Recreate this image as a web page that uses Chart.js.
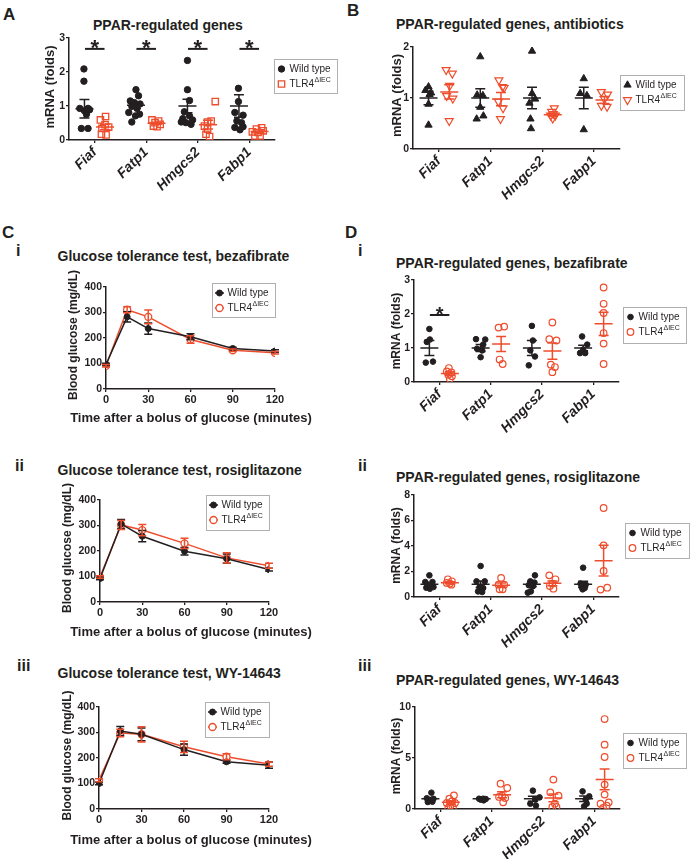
<!DOCTYPE html>
<html>
<head>
<meta charset="utf-8">
<script src="https://cdn.jsdelivr.net/npm/chart.js@4.4.1/dist/chart.umd.min.js"></script>
<style>
  body { margin: 0; background: #fff; }
  #fig { position: relative; width: 692px; height: 859px; overflow: hidden; font-family: "Liberation Sans", Arial, sans-serif; color: #231f20; }
  #fig canvas { position: absolute; left: 0; top: 0; }
  .lab { position: absolute; font-weight: bold; line-height: 1; white-space: nowrap; }
  .big { font-size: 17px; }
  .num { font-size: 16px; }
  .ttl { font-size: 14px; }
</style>
</head>
<body>
<div id="fig">
  <div class="lab big" style="left:3px;top:6px">A</div>
  <div class="lab big" style="left:347px;top:2px">B</div>
  <div class="lab big" style="left:2px;top:223.5px">C</div>
  <div class="lab big" style="left:345px;top:223.5px">D</div>
  <div class="lab num" style="left:16px;top:243px">i</div>
  <div class="lab num" style="left:358px;top:243px">i</div>
  <div class="lab num" style="left:15px;top:458px">ii</div>
  <div class="lab num" style="left:358px;top:458px">ii</div>
  <div class="lab num" style="left:17px;top:658px">iii</div>
  <div class="lab num" style="left:358px;top:658px">iii</div>

  <div class="lab ttl" style="left:93px;top:17.5px">PPAR-regulated genes</div>
  <div class="lab ttl" style="left:396px;top:16.5px">PPAR-regulated genes, antibiotics</div>
  <div class="lab ttl" style="left:57.5px;top:249px">Glucose tolerance test, bezafibrate</div>
  <div class="lab ttl" style="left:57.5px;top:462.5px">Glucose tolerance test, rosiglitazone</div>
  <div class="lab ttl" style="left:57.5px;top:665.5px">Glucose tolerance test, WY-14643</div>
  <div class="lab ttl" style="left:396px;top:256px">PPAR-regulated genes, bezafibrate</div>
  <div class="lab ttl" style="left:396px;top:470px">PPAR-regulated genes, rosiglitazone</div>
  <div class="lab ttl" style="left:396px;top:672.5px">PPAR-regulated genes, WY-14643</div>

  <canvas id="chartA" width="692" height="859"></canvas>
  <canvas id="chartB" width="692" height="859"></canvas>
  <canvas id="chartC1" width="692" height="859"></canvas>
  <canvas id="chartC2" width="692" height="859"></canvas>
  <canvas id="chartC3" width="692" height="859"></canvas>
  <canvas id="chartD1" width="692" height="859"></canvas>
  <canvas id="chartD2" width="692" height="859"></canvas>
  <canvas id="chartD3" width="692" height="859"></canvas>
</div>

<script>
const W = 692, H = 859;
const DARK = '#231f20';
const RED = '#ee4d2d';
const FONT = '"Liberation Sans", Arial, sans-serif';

Chart.defaults.font.family = FONT;
Chart.defaults.color = DARK;

const genes = ['Fiaf', 'Fatp1', 'Hmgcs2', 'Fabp1'];
const minutes = [0, 15, 30, 60, 90, 120];
const seriesNames = ['Wild type', 'TLR4'];
const seriesSups = ['', 'ΔIEC'];

// A - PPAR-regulated genes (points per gene, jitter in category units)
const aWildY = [
  [2.09, 1.73, 0.93, 0.86, 0.93, 0.76, 0.89, 0.34, 0.34],
  [1.48, 1.15, 1.30, 1.10, 1.06, 0.99, 0.93, 0.81, 0.71, 0.76, 0.53],
  [2.34, 1.48, 1.16, 0.83, 0.63, 0.51, 0.59, 0.71, 0.53, 0.46],
  [1.52, 1.13, 0.81, 0.73, 0.56, 0.51, 0.37, 0.30, 0.39]
];
const aWildDx = [
  [-0.01, -0.01, -0.09, 0, 0.07, 0.04, 0.1, -0.06, 0.07],
  [0, -0.11, 0.05, -0.03, 0.08, -0.08, 0.02, -0.14, -0.01, 0.07, -0.08],
  [0, 0, 0.04, -0.06, -0.09, -0.03, 0.1, 0.04, -0.12, 0.07],
  [-0.01, -0.01, -0.08, 0.08, -0.04, 0.05, -0.08, 0.02, 0.08]
];
const aTlrY = [
  [0.69, 0.59, 0.45, 0.34, 0.38, 0.17, 0.15],
  [0.59, 0.51, 0.56, 0.41, 0.39, 0.46],
  [1.13, 0.53, 0.56, 0.41, 0.32, 0.17, 0.10],
  [0.32, 0.36, 0.24, 0.22, 0.27, 0.12, 0.12]
];
const aTlrDx = [
  [0.01, -0.09, 0, -0.06, 0.07, -0.07, 0.02],
  [-0.09, -0.03, 0.04, -0.06, 0.01, 0.07],
  [0.14, -0.01, 0.06, -0.07, -0.01, -0.04, 0.03],
  [-0.06, 0.04, -0.14, -0.03, 0.07, -0.09, 0.01]
];
const aWildMean = [0.92, 1.02, 1.0, 1.0];
const aWildSem = [0.27, 0.09, 0.2, 0.33];
const aTlrMean = [0.38, 0.49, 0.45, 0.25];
const aTlrSem = [0.08, 0.03, 0.13, 0.05];

// B - antibiotics
const bWildY = [
  [1.22, 1.15, 1.10, 1.07, 0.88, 0.47],
  [1.81, 1.06, 1.05, 0.82, 0.59, 0.65],
  [1.92, 1.09, 0.98, 0.90, 0.59, 0.40],
  [1.38, 1.09, 1.05, 0.38]
];
const bWildDx = [
  [0, -0.06, 0.05, 0.02, 0, 0],
  [0, -0.06, 0.05, 0, -0.07, 0.06],
  [0, 0, 0.06, -0.05, -0.03, -0.02],
  [0, -0.07, 0.06, 0]
];
const bTlrY = [
  [1.55, 1.48, 1.24, 1.04, 0.99, 0.55],
  [1.35, 1.22, 1.20, 0.93, 0.80, 0.59],
  [0.80, 0.73, 0.69, 0.66, 0.66, 0.60],
  [1.12, 1.07, 0.98, 0.85, 0.83]
];
const bTlrDx = [
  [-0.06, 0.06, 0.01, -0.05, 0.07, 0],
  [-0.04, 0.03, 0.06, -0.05, 0.04, -0.01],
  [0.03, -0.02, 0.01, -0.04, 0.05, 0],
  [-0.06, 0.06, 0, -0.06, 0.05]
];
const bWildMean = [1.0, 1.0, 1.0, 1.0];
const bWildSem = [0.13, 0.18, 0.21, 0.21];
const bTlrMean = [1.12, 0.98, 0.67, 0.96];
const bTlrSem = [0.14, 0.13, 0.03, 0.07];

// C - glucose tolerance tests (mean and SEM per time point)
const c1Wild = [96, 283, 237, 205, 159, 149];
const c1WildErr = [5, 20, 22, 12, 5, 5];
const c1Tlr = [91, 311, 283, 194, 152, 142];
const c1TlrErr = [5, 12, 27, 15, 5, 5];

const c2Wild = [92, 306, 258, 199, 170, 127];
const c2WildErr = [5, 18, 22, 15, 18, 5];
const c2Tlr = [98, 302, 282, 230, 173, 142];
const c2TlrErr = [5, 18, 22, 20, 20, 10];

const c3Wild = [100, 306, 293, 233, 185, 172];
const c3WildErr = [5, 18, 25, 22, 6, 12];
const c3Tlr = [113, 298, 293, 244, 205, 176];
const c3TlrErr = [6, 15, 30, 22, 12, 8];

// D i - bezafibrate
const d1WildY = [
  [1.56, 1.25, 1.18, 0.57, 0.60],
  [1.26, 1.25, 1.10, 0.98, 0.93, 0.73],
  [1.65, 1.22, 0.93, 0.75, 0.49],
  [1.34, 1.10, 0.95, 0.85, 0.85]
];
const d1WildDx = [
  [0, 0.01, -0.05, -0.07, 0.07],
  [-0.09, 0.09, 0.05, -0.07, 0.03, 0],
  [0, 0.02, -0.03, 0.06, -0.06],
  [-0.02, 0.08, 0, -0.06, 0.04]
];
const d1TlrY = [
  [0.41, 0.31, 0.28, 0.21, 0.17, 0.09],
  [1.63, 1.60, 0.66, 0.53],
  [1.75, 1.26, 1.22, 0.51, 0.44, 0.29],
  [2.78, 2.30, 2.03, 1.44, 1.13, 0.53]
];
const d1TlrDx = [
  [-0.02, -0.06, 0.03, -0.03, 0.04, 0],
  [0.06, -0.05, -0.03, 0.03],
  [0, -0.06, 0.08, -0.03, 0.05, 0],
  [0, 0, 0, 0, 0, 0]
];
const d1WildMean = [1.0, 1.0, 1.0, 1.0];
const d1WildSem = [0.22, 0.1, 0.22, 0.08];
const d1TlrMean = [0.25, 1.12, 0.91, 1.71];
const d1TlrSem = [0.05, 0.22, 0.24, 0.34];

// D ii - rosiglitazone
const d2WildY = [
  [1.70, 1.18, 1.18, 0.97, 0.86, 0.73, 0.65, 0.78],
  [2.43, 1.23, 1.23, 0.78, 0.70, 0.44, 0.39],
  [1.70, 1.23, 1.13, 0.92, 0.84, 0.44, 0.34],
  [2.30, 1.05, 0.97, 0.78, 0.70, 0.60]
];
const d2WildDx = [
  [0, -0.08, 0.06, -0.03, 0.05, -0.06, 0.01, 0.08],
  [0, -0.08, 0.08, -0.02, 0.05, -0.05, 0.03],
  [0.06, -0.03, 0.05, -0.06, 0.02, -0.02, -0.08],
  [0, -0.05, 0.05, -0.03, 0.03, -0.01]
];
const d2TlrY = [
  [1.39, 1.23, 1.05, 1.10, 0.97],
  [1.50, 0.97, 0.97, 0.60, 0.60],
  [1.70, 1.39, 1.05, 0.86, 0.65],
  [6.98, 4.05, 2.04, 0.73, 0.58]
];
const d2TlrDx = [
  [-0.04, 0.04, 0, -0.06, 0.03],
  [0, -0.05, 0.06, -0.03, 0.03],
  [-0.06, 0.06, 0, -0.05, 0.02],
  [0, 0, 0, 0.07, -0.06]
];
const d2WildMean = [1.0, 1.0, 1.0, 1.0];
const d2WildSem = [0.1, 0.25, 0.18, 0.24];
const d2TlrMean = [1.12, 0.93, 1.07, 2.85];
const d2TlrSem = [0.08, 0.16, 0.19, 1.2];

// D iii - WY-14643
const d3WildY = [
  [1.60, 1.05, 1.00, 0.85, 0.72, 0.68],
  [1.01, 1.01, 0.98, 0.92, 0.85],
  [1.80, 1.14, 0.92, 0.52, 0.33],
  [1.73, 1.24, 0.92, 0.52, 0.26]
];
const d3WildDx = [
  [0.02, -0.07, 0.06, -0.02, 0.04, -0.05],
  [-0.05, 0.03, 0.08, -0.02, 0.04],
  [0, 0.13, 0.05, -0.05, 0.06],
  [-0.03, 0.1, 0.03, 0.05, 0]
];
const d3TlrY = [
  [1.34, 1.01, 0.75, 0.59, 0.59, 0.33, 0.16, 0.10],
  [2.48, 2.06, 1.31, 1.18, 1.08, 0.65],
  [2.88, 1.63, 1.31, 0.52, 0.20, 0.20],
  [8.82, 6.31, 5.10, 2.39, 1.41, 0.65, 0.52, 0.33, 0.10]
];
const d3TlrDx = [
  [0.06, -0.03, 0.02, -0.08, 0.08, -0.01, 0.04, -0.05],
  [-0.03, 0.1, 0, -0.06, 0.06, 0.02],
  [0, -0.06, 0.1, 0.03, -0.02, 0.06],
  [0, 0, 0, 0, 0, 0.08, -0.08, 0.04, -0.03]
];
const d3WildMean = [1.0, 1.0, 1.0, 1.0];
const d3WildSem = [0.12, 0.04, 0.25, 0.27];
const d3TlrMean = [0.65, 1.4, 1.09, 2.9];
const d3TlrSem = [0.15, 0.3, 0.38, 1.02];

// every canvas covers the whole figure; padding puts the plot area where it belongs
const Y_W = 30, X_H = 60;
function framePadding(area) {
  return { left: area.l - Y_W, top: area.t, right: W - area.r, bottom: H - area.b - X_H };
}

function axisGrid() {
  return { drawOnChartArea: false, drawTicks: true, tickLength: 3, color: DARK, lineWidth: 1.3 };
}
function axisBorder() {
  return { color: DARK, width: 1.5 };
}

function marker(ctx, style, x, y, r, rot, fill, stroke, lw) {
  ctx.save();
  ctx.translate(x, y);
  ctx.rotate(rot * Math.PI / 180);
  ctx.beginPath();
  if (style === 'rect') {
    const s = r * Math.SQRT1_2;
    ctx.rect(-s, -s, 2 * s, 2 * s);
  } else if (style === 'triangle') {
    for (let k = 0; k < 3; k++) {
      const a = k * 2 * Math.PI / 3;
      ctx.lineTo(Math.sin(a) * r, -Math.cos(a) * r);
    }
    ctx.closePath();
  } else {
    ctx.arc(0, 0, r, 0, Math.PI * 2);
  }
  ctx.fillStyle = fill;
  ctx.fill();
  ctx.strokeStyle = stroke;
  ctx.lineWidth = lw;
  ctx.stroke();
  ctx.restore();
}

const errorBars = {
  id: 'errorBars',
  afterDatasetsDraw(chart) {
    const { ctx, scales: { x, y } } = chart;
    ctx.save();
    ctx.lineWidth = 1.5;
    chart.data.datasets.forEach(ds => {
      ctx.strokeStyle = ds.barColor;
      ctx.beginPath();
      if (ds.meanVals) {
        ds.meanVals.forEach((m, g) => {
          const px = x.getPixelForValue(g + ds.colShift);
          const pm = y.getPixelForValue(m);
          const pt = y.getPixelForValue(m + ds.semVals[g]);
          const pb = y.getPixelForValue(Math.max(m - ds.semVals[g], 0));
          ctx.moveTo(px - 9, pm); ctx.lineTo(px + 9, pm);
          ctx.moveTo(px, pt); ctx.lineTo(px, pb);
          ctx.moveTo(px - 5, pt); ctx.lineTo(px + 5, pt);
          ctx.moveTo(px - 5, pb); ctx.lineTo(px + 5, pb);
        });
      }
      if (ds.errVals) {
        ds.data.forEach((d, i) => {
          const e = ds.errVals[i];
          const px = x.getPixelForValue(d.x);
          const pt = y.getPixelForValue(d.y + e);
          const pb = y.getPixelForValue(d.y - e);
          ctx.moveTo(px, pt); ctx.lineTo(px, pb);
          ctx.moveTo(px - 4, pt); ctx.lineTo(px + 4, pt);
          ctx.moveTo(px - 4, pb); ctx.lineTo(px + 4, pb);
        });
      }
      ctx.stroke();
    });
    ctx.restore();
  }
};

const sigBars = {
  id: 'sigBars',
  afterDatasetsDraw(chart, args, opts) {
    if (!opts.genes) return;
    const { ctx, scales: { x, y } } = chart;
    const py = y.getPixelForValue(opts.y);
    ctx.save();
    ctx.strokeStyle = DARK;
    ctx.fillStyle = DARK;
    ctx.lineWidth = 2;
    ctx.font = 'bold ' + opts.size + 'px ' + FONT;
    ctx.textAlign = 'center';
    ctx.textBaseline = 'alphabetic';
    opts.genes.forEach(g => {
      ctx.beginPath();
      ctx.moveTo(x.getPixelForValue(g - 0.19), py);
      ctx.lineTo(x.getPixelForValue(g + 0.19), py);
      ctx.stroke();
      ctx.fillText('*', x.getPixelForValue(g), py + opts.size * 0.3);
    });
    ctx.restore();
  }
};

// axis titles drawn by hand so they are not squeezed to the plot width
const axisTitles = {
  id: 'axisTitles',
  afterDraw(chart, args, opts) {
    const ctx = chart.ctx;
    ctx.save();
    ctx.fillStyle = DARK;
    ctx.textAlign = 'center';
    ctx.textBaseline = 'middle';
    if (opts.y) {
      ctx.save();
      ctx.translate(opts.y.x, opts.y.y);
      ctx.rotate(-Math.PI / 2);
      ctx.font = 'bold ' + opts.y.size + 'px ' + FONT;
      ctx.fillText(opts.y.text, 0, 0);
      ctx.restore();
    }
    if (opts.x) {
      ctx.font = 'bold ' + opts.x.size + 'px ' + FONT;
      ctx.fillText(opts.x.text, opts.x.x, opts.x.y);
    }
    ctx.restore();
  }
};

const boxLegend = {
  id: 'boxLegend',
  afterDraw(chart, args, opts) {
    const ctx = chart.ctx;
    ctx.save();
    ctx.strokeStyle = '#b0b0b0';
    ctx.lineWidth = 1;
    ctx.strokeRect(opts.x + 0.5, opts.y + 0.5, opts.w, opts.h);
    chart.data.datasets.forEach((ds, i) => {
      const cy = opts.y + 10 + i * 15;
      if (opts.line) {
        ctx.strokeStyle = ds.borderColor;
        ctx.lineWidth = 1.5;
        ctx.beginPath();
        ctx.moveTo(opts.x + 3, cy);
        ctx.lineTo(opts.x + 12, cy);
        ctx.stroke();
      }
      marker(ctx, ds.pointStyle, opts.x + 7.5, cy, ds.pointRadius, ds.pointRotation || 0,
        ds.pointBackgroundColor, ds.pointBorderColor, ds.pointBorderWidth);
      ctx.fillStyle = DARK;
      ctx.textAlign = 'left';
      ctx.textBaseline = 'middle';
      ctx.font = '10px ' + FONT;
      ctx.fillText(seriesNames[i], opts.x + 15.5, cy);
      if (seriesSups[i]) {
        const tw = ctx.measureText(seriesNames[i]).width;
        ctx.font = '7px ' + FONT;
        ctx.fillText(seriesSups[i], opts.x + 16 + tw, cy - 4);
      }
    });
    ctx.restore();
  }
};

function dotPanel(id, p) {
  const cols = [
    { ys: p.wildY, dx: p.wildDx, means: p.wildMean, sems: p.wildSem, shift: -0.2, color: DARK, look: p.wildLook },
    { ys: p.tlrY, dx: p.tlrDx, means: p.tlrMean, sems: p.tlrSem, shift: 0.2, color: RED, look: p.tlrLook }
  ];
  const datasets = cols.map((c, s) => ({
    label: seriesNames[s],
    data: c.ys.flatMap((vals, g) => vals.map((v, k) => ({ x: g + c.shift + c.dx[g][k], y: v }))),
    showLine: false,
    pointStyle: c.look.shape,
    pointRadius: c.look.r,
    pointRotation: c.look.rot || 0,
    pointBackgroundColor: c.look.fill,
    pointBorderColor: c.color,
    pointBorderWidth: c.look.lw,
    meanVals: c.means,
    semVals: c.sems,
    colShift: c.shift,
    barColor: c.color
  }));

  new Chart(document.getElementById(id), {
    type: 'scatter',
    data: { datasets },
    plugins: [errorBars, sigBars, axisTitles, boxLegend],
    options: {
      responsive: false,
      animation: false,
      devicePixelRatio: 1,
      events: [],
      layout: { padding: framePadding(p.area) },
      plugins: {
        legend: { display: false },
        tooltip: { enabled: false },
        sigBars: p.sig || false,
        axisTitles: { y: { text: 'mRNA (folds)', x: p.yTitle[0], y: p.yTitle[1], size: p.yTitle[2] } },
        boxLegend: p.legend
      },
      scales: {
        x: {
          type: 'linear',
          min: -0.5,
          max: 3.5,
          afterBuildTicks: s => { s.ticks = genes.map((g, i) => ({ value: i })); },
          afterFit: s => { s.height = X_H; },
          ticks: {
            autoSkip: false,
            minRotation: 45,
            maxRotation: 45,
            padding: 1,
            callback: v => genes[v],
            font: { size: 14, weight: 'bold', style: 'italic' }
          },
          grid: axisGrid(),
          border: axisBorder()
        },
        y: {
          min: 0,
          max: p.yMax,
          afterFit: s => { s.width = Y_W; },
          ticks: { stepSize: p.yStep, padding: 1, font: { size: 10.5, weight: 'bold' } },
          grid: axisGrid(),
          border: axisBorder()
        }
      }
    }
  });
}

function gttPanel(id, p) {
  const datasets = [
    {
      label: seriesNames[0],
      data: minutes.map((t, i) => ({ x: t, y: p.wild[i] })),
      errVals: p.wildErr,
      barColor: DARK,
      showLine: true,
      borderColor: DARK,
      borderWidth: 1.5,
      pointStyle: 'circle',
      pointRadius: 3,
      pointBackgroundColor: DARK,
      pointBorderColor: DARK,
      pointBorderWidth: 1
    },
    {
      label: seriesNames[1],
      data: minutes.map((t, i) => ({ x: t, y: p.tlr[i] })),
      errVals: p.tlrErr,
      barColor: RED,
      showLine: true,
      borderColor: RED,
      borderWidth: 1.5,
      pointStyle: 'circle',
      pointRadius: 3.5,
      pointBackgroundColor: '#ffffff',
      pointBorderColor: RED,
      pointBorderWidth: 1.3
    }
  ];

  new Chart(document.getElementById(id), {
    type: 'scatter',
    data: { datasets },
    plugins: [errorBars, axisTitles, boxLegend],
    options: {
      responsive: false,
      animation: false,
      devicePixelRatio: 1,
      events: [],
      layout: { padding: framePadding(p.area) },
      plugins: {
        legend: { display: false },
        tooltip: { enabled: false },
        axisTitles: {
          y: { text: 'Blood glucose (mg/dL)', x: p.yTitle[0], y: p.yTitle[1], size: 12 },
          x: { text: 'Time after a bolus of glucose (minutes)', x: p.xTitle[0], y: p.xTitle[1], size: 13 }
        },
        boxLegend: p.legend
      },
      scales: {
        x: {
          type: 'linear',
          min: 0,
          max: 120,
          afterFit: s => { s.height = X_H; },
          ticks: { stepSize: 30, padding: 1, maxRotation: 0, font: { size: 11, weight: 'bold' } },
          grid: axisGrid(),
          border: axisBorder()
        },
        y: {
          min: 0,
          max: 400,
          afterFit: s => { s.width = Y_W; },
          ticks: { stepSize: 100, padding: 1, font: { size: 10.5, weight: 'bold' } },
          grid: axisGrid(),
          border: axisBorder()
        }
      }
    }
  });
}

const filledDot = { shape: 'circle', r: 3.2, fill: DARK, lw: 1 };
const openSquare = { shape: 'rect', r: 4.5, fill: 'rgba(255,255,255,0)', lw: 1.3 };
const filledUp = { shape: 'triangle', r: 4.2, fill: DARK, lw: 1 };
const openDown = { shape: 'triangle', r: 4.6, rot: 180, fill: 'rgba(255,255,255,0)', lw: 1.2 };
const smallDot = { shape: 'circle', r: 2.8, fill: DARK, lw: 1 };
const openDot = { shape: 'circle', r: 3.3, fill: 'rgba(255,255,255,0)', lw: 1.2 };

dotPanel('chartA', {
  area: { l: 69, r: 275, t: 38, b: 140 }, yTitle: [50.5, 87, 13], yMax: 3, yStep: 1,
  wildY: aWildY, wildDx: aWildDx, wildMean: aWildMean, wildSem: aWildSem, wildLook: filledDot,
  tlrY: aTlrY, tlrDx: aTlrDx, tlrMean: aTlrMean, tlrSem: aTlrSem, tlrLook: openSquare,
  sig: { genes: [0, 1, 2, 3], y: 2.68, size: 22 },
  legend: { x: 274, y: 59, w: 63, h: 34 }
});

dotPanel('chartB', {
  area: { l: 413, r: 620, t: 47, b: 149 }, yTitle: [397, 95.5, 13], yMax: 2, yStep: 1,
  wildY: bWildY, wildDx: bWildDx, wildMean: bWildMean, wildSem: bWildSem, wildLook: filledUp,
  tlrY: bTlrY, tlrDx: bTlrDx, tlrMean: bTlrMean, tlrSem: bTlrSem, tlrLook: openDown,
  legend: { x: 620, y: 75, w: 64, h: 35 }
});

gttPanel('chartC1', {
  area: { l: 106, r: 275, t: 287, b: 389 }, yTitle: [73.5, 335], xTitle: [191, 418],
  wild: c1Wild, wildErr: c1WildErr, tlr: c1Tlr, tlrErr: c1TlrErr,
  legend: { x: 212, y: 283, w: 63, h: 34, line: true }
});

gttPanel('chartC2', {
  area: { l: 100, r: 269, t: 500, b: 602 }, yTitle: [68, 548], xTitle: [191, 632],
  wild: c2Wild, wildErr: c2WildErr, tlr: c2Tlr, tlrErr: c2TlrErr,
  legend: { x: 206, y: 495, w: 63, h: 35, line: true }
});

gttPanel('chartC3', {
  area: { l: 99, r: 269, t: 707, b: 809 }, yTitle: [68, 755.5], xTitle: [191, 840],
  wild: c3Wild, wildErr: c3WildErr, tlr: c3Tlr, tlrErr: c3TlrErr,
  legend: { x: 205, y: 702, w: 64, h: 35, line: true }
});

dotPanel('chartD1', {
  area: { l: 414, r: 619, t: 280, b: 382 }, yTitle: [397, 331, 12], yMax: 3, yStep: 1,
  wildY: d1WildY, wildDx: d1WildDx, wildMean: d1WildMean, wildSem: d1WildSem, wildLook: smallDot,
  tlrY: d1TlrY, tlrDx: d1TlrDx, tlrMean: d1TlrMean, tlrSem: d1TlrSem, tlrLook: openDot,
  sig: { genes: [0], y: 1.97, size: 20 },
  legend: { x: 623, y: 307, w: 63, h: 36 }
});

dotPanel('chartD2', {
  area: { l: 414, r: 619, t: 495, b: 597 }, yTitle: [397, 545.5, 12], yMax: 8, yStep: 2,
  wildY: d2WildY, wildDx: d2WildDx, wildMean: d2WildMean, wildSem: d2WildSem, wildLook: smallDot,
  tlrY: d2TlrY, tlrDx: d2TlrDx, tlrMean: d2TlrMean, tlrSem: d2TlrSem, tlrLook: openDot,
  legend: { x: 625, y: 523, w: 64, h: 35 }
});

dotPanel('chartD3', {
  area: { l: 415, r: 620, t: 707, b: 809 }, yTitle: [397, 756, 12], yMax: 10, yStep: 5,
  wildY: d3WildY, wildDx: d3WildDx, wildMean: d3WildMean, wildSem: d3WildSem, wildLook: smallDot,
  tlrY: d3TlrY, tlrDx: d3TlrDx, tlrMean: d3TlrMean, tlrSem: d3TlrSem, tlrLook: openDot,
  legend: { x: 623, y: 733, w: 63, h: 35 }
});
</script>
</body>
</html>
